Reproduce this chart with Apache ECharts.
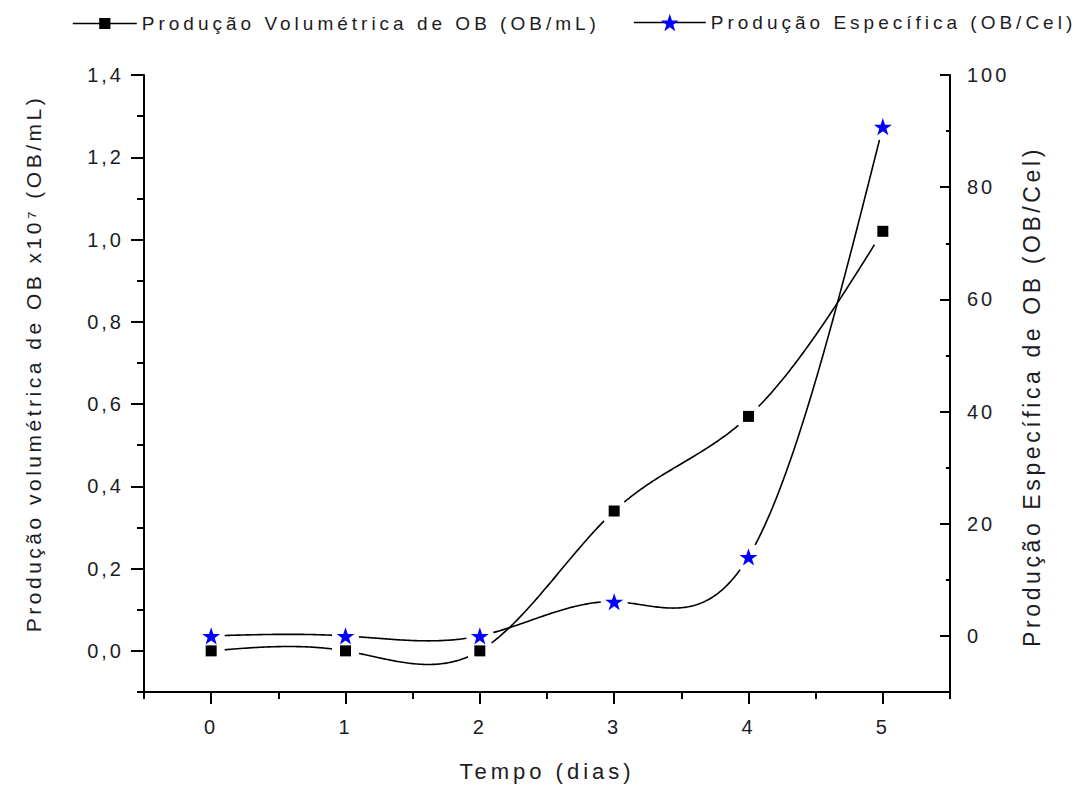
<!DOCTYPE html>
<html>
<head>
<meta charset="utf-8">
<script src="https://cdn.jsdelivr.net/npm/echarts@6/dist/echarts.min.js"></script>
<style>
  html, body { margin: 0; padding: 0; background: #fff; }
  #chart { width: 1080px; height: 790px; }
  /* wide, loosely spaced lettering */
  #chart text[style*="19px"] { letter-spacing: 4px; }
  #chart text[style*="20px"] { letter-spacing: 3px; }
  #chart text[style*="21px"] { letter-spacing: 3.5px; }
  #chart text[style*="22px"] { letter-spacing: 4px; }
  #chart text[style*="23px"] { letter-spacing: 3.6px; }
</style>
</head>
<body>
<div id="chart"></div>
<script>
// Tempo (dias)
const days = [0, 1, 2, 3, 4, 5];
// Produção volumétrica de OB x10^7 (OB/mL)
const volumetric = [0.0, 0.0, 0.0, 0.34, 0.57, 1.02];
// Produção específica (OB/Cel)
const specific = [0.0, 0.0, 0.0, 6.1, 14.1, 90.8];

// major tick positions
const leftTicks = [0, 0.2, 0.4, 0.6, 0.8, 1.0, 1.2, 1.4];
const rightTicks = [0, 20, 40, 60, 80, 100];

const volName = 'Produção Volumétrica de OB (OB/mL)';
const specName = 'Produção Específica (OB/Cel)';

const FONT = '"Liberation Sans", Arial, sans-serif';
const INK = '#1c1c24';
const STAR = 'path://M50,0 L61.8,35.1 L97.6,35.1 L68.8,56.7 L79.4,90.5 L50,69.6 L20.6,90.5 L31.2,56.7 L2.4,35.1 L38.2,35.1 Z';

const axisLineStyle = { color: '#000', width: 2 };
const tickLine = { color: '#000', width: 2 };
const CURVE = { stroke: '#000', lineWidth: 1.6, fill: null };

// Natural cubic spline through the points (in pixel space, y as a function of x),
// drawn as one polyline per segment with a small gap left open around each marker.
function splineRenderer(xs, ys, gap) {
  return function (params, api) {
    if (params.dataIndex !== 0) return null;
    const P = xs.map((x, i) => api.coord([x, ys[i]]));
    const n = P.length;
    const h = [];
    for (let i = 0; i < n - 1; i++) h.push(P[i + 1][0] - P[i][0]);
    const M = new Array(n).fill(0);
    const a = [], b = [], c = [], d = [];
    for (let i = 1; i < n - 1; i++) {
      a.push(h[i - 1]);
      b.push(2 * (h[i - 1] + h[i]));
      c.push(h[i]);
      d.push(6 * ((P[i + 1][1] - P[i][1]) / h[i] - (P[i][1] - P[i - 1][1]) / h[i - 1]));
    }
    const m = b.length;
    for (let i = 1; i < m; i++) {
      const w = a[i] / b[i - 1];
      b[i] -= w * c[i - 1];
      d[i] -= w * d[i - 1];
    }
    const sol = new Array(m);
    sol[m - 1] = d[m - 1] / b[m - 1];
    for (let i = m - 2; i >= 0; i--) sol[i] = (d[i] - c[i] * sol[i + 1]) / b[i];
    for (let i = 0; i < m; i++) M[i + 1] = sol[i];

    const children = [];
    for (let i = 0; i < n - 1; i++) {
      const steps = 80;
      let run = [];
      for (let k = 0; k <= steps; k++) {
        const x = P[i][0] + (k / steps) * h[i];
        const A = (P[i + 1][0] - x) / h[i];
        const B = (x - P[i][0]) / h[i];
        const y = A * P[i][1] + B * P[i + 1][1] +
          ((A * A * A - A) * M[i] + (B * B * B - B) * M[i + 1]) * h[i] * h[i] / 6;
        const near = Math.hypot(x - P[i][0], y - P[i][1]) < gap ||
                     Math.hypot(x - P[i + 1][0], y - P[i + 1][1]) < gap;
        if (near) {
          if (run.length > 1) children.push({ type: 'polyline', shape: { points: run }, style: CURVE });
          run = [];
        } else {
          run.push([x, y]);
        }
      }
      if (run.length > 1) children.push({ type: 'polyline', shape: { points: run }, style: CURVE });
    }
    return { type: 'group', children: children };
  };
}

const chart = echarts.init(document.getElementById('chart'), null, { renderer: 'svg' });

chart.setOption({
  animation: false,
  backgroundColor: '#fff',
  grid: { left: 144, right: 130, top: 75, bottom: 98, containLabel: false },
  legend: [
    {
      data: [volName],
      left: 72, top: 14, padding: 0, itemWidth: 64, itemHeight: 14,
      lineStyle: { color: '#000', width: 1.6, opacity: 1 },
      textStyle: { fontSize: 19, fontFamily: FONT, color: INK }
    },
    {
      data: [specName],
      left: 633, top: 13, padding: 0, itemWidth: 72, itemHeight: 22,
      lineStyle: { color: '#000', width: 1.6, opacity: 1 },
      textStyle: { fontSize: 19, fontFamily: FONT, color: INK }
    }
  ],
  xAxis: [
    {
      type: 'value', min: -0.5, max: 5.5, interval: 0.5, position: 'bottom',
      axisLine: { show: true, onZero: false, lineStyle: axisLineStyle },
      axisTick: { show: true, length: 7, lineStyle: tickLine },
      axisLabel: {
        margin: 25, fontSize: 20, fontFamily: FONT, color: INK,
        formatter: v => (Math.abs(v - Math.round(v)) < 1e-6 && days.includes(Math.round(v))) ? String(Math.round(v)) : ''
      },
      splitLine: { show: false },
      name: 'Tempo (dias)', nameLocation: 'middle', nameGap: 68,
      nameTextStyle: { fontSize: 22, fontFamily: FONT, color: INK }
    },
    {
      type: 'value', min: -0.5, max: 5.5, position: 'bottom',
      axisLine: { show: false, onZero: false },
      axisTick: { show: true, length: 12, lineStyle: tickLine, customValues: days },
      axisLabel: { show: false },
      splitLine: { show: false }
    }
  ],
  yAxis: [
    {
      type: 'value', min: -0.1, max: 1.4, interval: 0.1, position: 'left',
      axisLine: { show: true, onZero: false, lineStyle: axisLineStyle },
      axisTick: { show: true, length: 7, lineStyle: tickLine },
      axisLabel: {
        margin: 20, fontSize: 20, fontFamily: FONT, color: INK,
        formatter: v => {
          const k = Math.round(v * 10);
          return (k >= 0 && k % 2 === 0) ? (k / 10).toFixed(1).replace('.', ',') : '';
        }
      },
      splitLine: { show: false },
      name: 'Produção volumétrica de OB x10⁷ (OB/mL)',
      nameLocation: 'middle', nameGap: 100,
      nameTextStyle: { fontSize: 21, fontFamily: FONT, color: INK, padding: [0, 0, 0, 40] }
    },
    {
      type: 'value', min: -0.1, max: 1.4, position: 'left',
      axisLine: { show: false, onZero: false },
      axisTick: { show: true, length: 13, lineStyle: tickLine, customValues: leftTicks },
      axisLabel: { show: false },
      splitLine: { show: false }
    },
    {
      type: 'value', min: -10, max: 100, interval: 10, position: 'right',
      axisLine: { show: true, onZero: false, lineStyle: axisLineStyle },
      axisTick: { show: true, inside: true, length: 4, lineStyle: tickLine },
      axisLabel: {
        margin: 17, fontSize: 20, fontFamily: FONT, color: INK,
        formatter: v => (v >= 0 && Math.round(v) % 20 === 0) ? String(Math.round(v)) : ''
      },
      splitLine: { show: false },
      name: 'Produção Específica de OB (OB/Cel)',
      nameLocation: 'middle', nameGap: 70,
      nameTextStyle: { fontSize: 23, fontFamily: FONT, color: INK, padding: [0, 26, 0, 0] }
    },
    {
      type: 'value', min: -10, max: 100, position: 'right',
      axisLine: { show: false, onZero: false },
      axisTick: { show: true, inside: true, length: 10, lineStyle: tickLine, customValues: rightTicks },
      axisLabel: { show: false },
      splitLine: { show: false }
    }
  ],
  series: [
    {
      type: 'custom', xAxisIndex: 0, yAxisIndex: 0,
      data: days.map((d, i) => [d, volumetric[i]]),
      encode: { x: 0, y: 1 },
      renderItem: splineRenderer(days, volumetric, 13),
      silent: true, z: 2
    },
    {
      type: 'custom', xAxisIndex: 0, yAxisIndex: 2,
      data: days.map((d, i) => [d, specific[i]]),
      encode: { x: 0, y: 1 },
      renderItem: splineRenderer(days, specific, 13),
      silent: true, z: 2
    },
    {
      name: volName,
      type: 'line', xAxisIndex: 0, yAxisIndex: 0,
      data: days.map((d, i) => [d, volumetric[i]]),
      symbol: 'rect', symbolSize: 11,
      lineStyle: { width: 0, opacity: 0 },
      itemStyle: { color: '#000' },
      z: 3
    },
    {
      name: specName,
      type: 'line', xAxisIndex: 0, yAxisIndex: 2,
      data: days.map((d, i) => [d, specific[i]]),
      symbol: STAR, symbolSize: 18, symbolKeepAspect: true,
      lineStyle: { width: 0, opacity: 0 },
      itemStyle: { color: '#0000ff' },
      z: 4
    }
  ]
});
</script>
</body>
</html>
